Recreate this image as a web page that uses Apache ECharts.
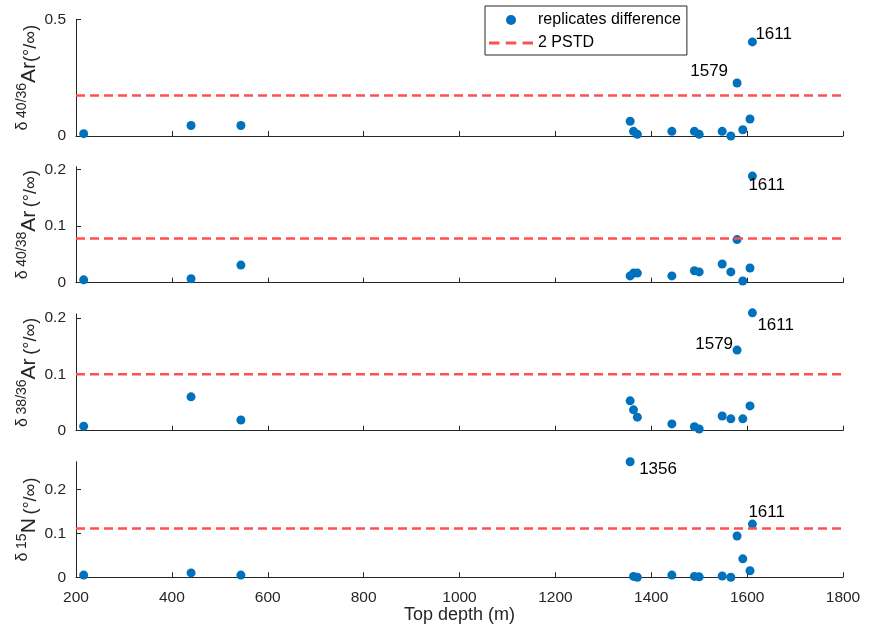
<!DOCTYPE html>
<html><head><meta charset="utf-8">
<script src="https://cdn.jsdelivr.net/npm/echarts@6/dist/echarts.min.js"></script>
<style>html,body{margin:0;padding:0;background:#fff}#c{width:872px;height:637px}</style>
</head><body><div id="c"></div>
<script>
// ---- data ----
const depths = [216, 440, 544, 1356, 1363, 1371, 1443, 1490, 1500, 1548, 1566, 1579, 1591, 1606, 1611];
const ar4036 = [0.010, 0.045, 0.045, 0.063, 0.020, 0.007, 0.020, 0.020, 0.007, 0.020, 0.000, 0.227, 0.027, 0.073, 0.403];
const ar4038 = [0.005, 0.007, 0.031, 0.012, 0.017, 0.017, 0.012, 0.021, 0.019, 0.033, 0.019, 0.076, 0.003, 0.026, 0.188];
const ar3836 = [0.008, 0.060, 0.019, 0.053, 0.037, 0.024, 0.012, 0.007, 0.003, 0.026, 0.021, 0.143, 0.021, 0.044, 0.209];
const n15    = [0.005, 0.010, 0.005, 0.263, 0.002, 0.000, 0.005, 0.002, 0.001, 0.003, 0.000, 0.094, 0.042, 0.015, 0.121];
const pstd = [0.173, 0.078, 0.100, 0.111];
const xTicks = [200, 400, 600, 800, 1000, 1200, 1400, 1600, 1800];
const yTicks = [[0, 0.5], [0, 0.1, 0.2], [0, 0.1, 0.2], [0, 0.1, 0.2]];
const yMax = [0.5, 0.2046, 0.207, 0.263];
const annotations = [[1611, 1579], [1611], [1611, 1579], [1356, 1611]];
const seriesNames = ['replicates difference', '2 PSTD'];
const xTitle = 'Top depth (m)';
const yTitles = [
  '{d|δ} {s|40/36}{b|Ar}{u|(°/∞)}',
  '{d|δ} {s|40/38}{b|Ar} {u|(°/∞)}',
  '{d|δ} {s|38/36}{b|Ar} {u|(°/∞)}',
  '{d|δ} {s|15}{b|N} {u|(°/∞)}'
];
const panels = [ar4036, ar4038, ar3836, n15];

// ---- styles / layout ----
const FONT = 'Liberation Sans, Arial, sans-serif';
const AX = '#262626';
const BLUE = '#0072BD';
const RED = '#ff5050';
const tops = [19.3, 166.7, 314, 461.7];
const heights = [116.7, 116, 116.7, 115.6];
const labelPos = {
  '0-1611': {align: 'left', offset: [3, -8]},
  '0-1579': {align: 'right', offset: [-9, -12]},
  '1-1611': {align: 'left', offset: [-4, 9]},
  '2-1611': {align: 'left', offset: [5, 12]},
  '2-1579': {align: 'right', offset: [-4, -6]},
  '3-1356': {align: 'left', offset: [9, 8]},
  '3-1611': {align: 'left', offset: [-4, -12]}
};

const grid = [], xAxis = [], yAxis = [], series = [];
panels.forEach((vals, p) => {
  grid.push({left: 76, right: 29, top: tops[p], height: heights[p]});
  const last = p === panels.length - 1;
  xAxis.push({
    type: 'value', gridIndex: p, min: xTicks[0], max: xTicks[xTicks.length - 1], interval: 200,
    axisLine: {lineStyle: {color: AX, width: 1}},
    axisTick: {inside: true, length: 5, lineStyle: {color: AX}},
    axisLabel: {show: last, color: AX, fontFamily: FONT, fontSize: 15.5, margin: 12,
      formatter: v => String(v)},
    splitLine: {show: false},
    name: last ? xTitle : '', nameLocation: 'middle', nameGap: 29, nameMoveOverlap: false,
    nameTextStyle: {color: AX, fontFamily: FONT, fontSize: 18}
  });
  yAxis.push({
    type: 'value', gridIndex: p, min: 0, max: yMax[p],
    axisLine: {show: true, lineStyle: {color: AX, width: 1}},
    axisTick: {show: true, inside: true, length: 5, lineStyle: {color: AX}, customValues: yTicks[p]},
    axisLabel: {color: AX, fontFamily: FONT, fontSize: 15.5, margin: 10, customValues: yTicks[p],
      formatter: v => String(v)},
    splitLine: {show: false},
    name: yTitles[p], nameLocation: 'middle', nameRotate: 90, nameGap: 36, nameMoveOverlap: false,
    nameTextStyle: {
      color: AX, fontFamily: FONT, fontSize: 13,
      rich: {
        d: {fontSize: 16, fontFamily: FONT, color: AX, verticalAlign: 'top', lineHeight: 25},
        s: {fontSize: 14, fontFamily: FONT, color: AX, verticalAlign: 'top', lineHeight: 25},
        b: {fontSize: 21, fontFamily: FONT, color: AX, verticalAlign: 'bottom', lineHeight: 25},
        u: {fontSize: 18, fontFamily: FONT, color: AX, verticalAlign: 'bottom', lineHeight: 25}
      }
    }
  });
  series.push({
    name: seriesNames[0], type: 'scatter', xAxisIndex: p, yAxisIndex: p,
    symbol: 'circle', symbolSize: 9, clip: false,
    itemStyle: {color: BLUE, opacity: 1},
    data: depths.map((d, i) => {
      const item = {value: [d, vals[i]]};
      if (annotations[p].includes(d)) {
        const lp = labelPos[p + '-' + d];
        item.label = {show: true, position: 'inside', formatter: String(d), color: '#000',
          fontFamily: FONT, fontSize: 17, align: lp.align, verticalAlign: 'middle', offset: lp.offset};
      }
      return item;
    })
  });
  series.push({
    name: seriesNames[1], type: 'line', xAxisIndex: p, yAxisIndex: p,
    symbol: 'none', showSymbol: false, silent: true,
    lineStyle: {color: RED, width: 2.5, type: [9, 5]},
    itemStyle: {color: RED},
    data: [[xTicks[0], pstd[p]], [xTicks[xTicks.length - 1], pstd[p]]]
  });
});

const chart = echarts.init(document.getElementById('c'), null, {renderer: 'canvas'});
chart.setOption({
  animation: false,
  backgroundColor: '#fff',
  grid, xAxis, yAxis, series,
  legend: {
    data: [
      {name: seriesNames[0], icon: 'circle'},
      {name: seriesNames[1], icon: 'path://M0 0h10v3H0z M16 0h10v3H16z M32 0h10v3H32z', itemStyle: {color: RED}}
    ],
    orient: 'vertical', left: 485, top: 6,
    itemWidth: 44, itemHeight: 10, itemGap: 7,
    padding: [6, 6, 4, 4],
    borderColor: AX, borderWidth: 1, backgroundColor: '#fff',
    textStyle: {color: '#000', fontFamily: FONT, fontSize: 16},
    selectedMode: false
  }
});
</script></body></html>
